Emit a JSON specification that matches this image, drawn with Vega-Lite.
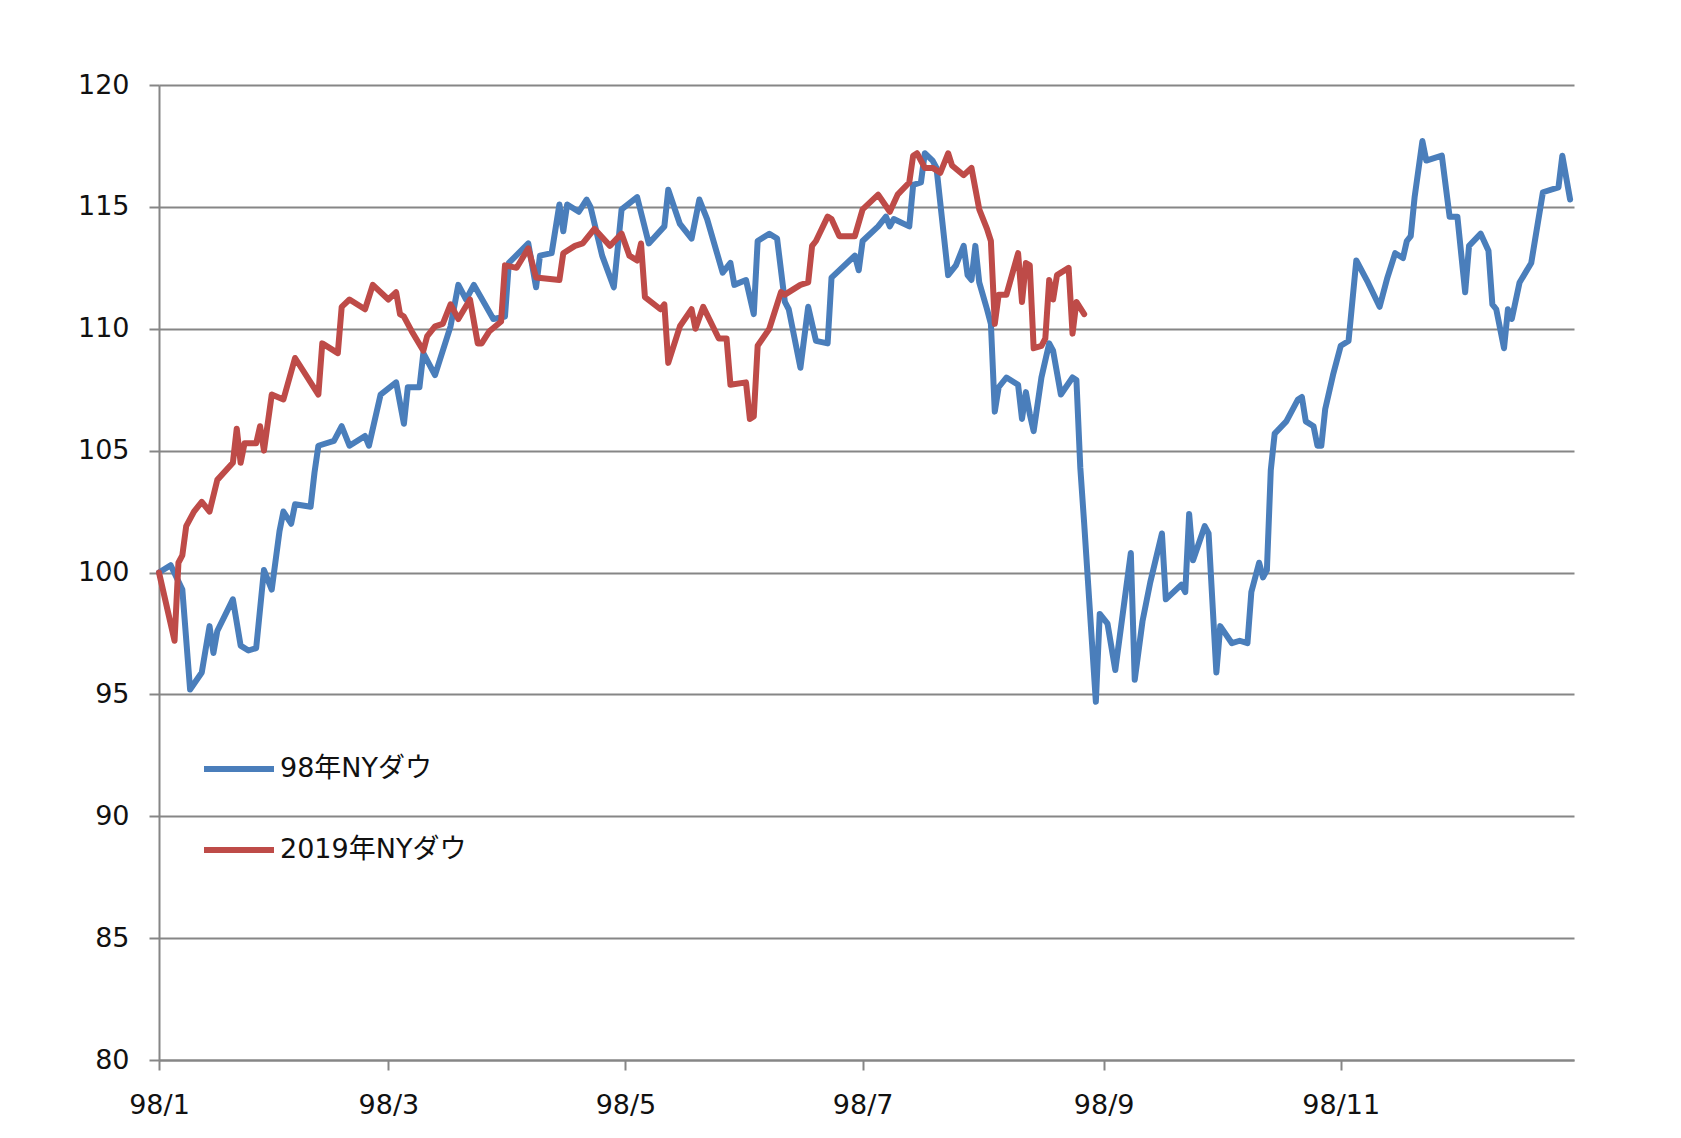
{
  "$schema": "https://vega.github.io/schema/vega-lite/v6.json",
  "width": 1415,
  "height": 975,
  "autosize": {"type": "none"},
  "padding": {"left": 159, "top": 85, "right": 107, "bottom": 78},
  "background": "white",
  "config": {"view": {"stroke": null}, "font": "DejaVu Sans"},
  "data": {"values": [
    {"series":"98年NYダウ","date":"1998-01-01T00:00:00","value":100.0},
    {"series":"98年NYダウ","date":"1998-01-04T00:00:00","value":100.3},
    {"series":"98年NYダウ","date":"1998-01-07T00:00:00","value":99.3},
    {"series":"98年NYダウ","date":"1998-01-09T00:00:00","value":95.2},
    {"series":"98年NYダウ","date":"1998-01-12T00:00:00","value":95.9},
    {"series":"98年NYダウ","date":"1998-01-14T00:00:00","value":97.8},
    {"series":"98年NYダウ","date":"1998-01-15T00:00:00","value":96.7},
    {"series":"98年NYダウ","date":"1998-01-16T00:00:00","value":97.6},
    {"series":"98年NYダウ","date":"1998-01-20T00:00:00","value":98.9},
    {"series":"98年NYダウ","date":"1998-01-22T00:00:00","value":97.0},
    {"series":"98年NYダウ","date":"1998-01-24T00:00:00","value":96.8},
    {"series":"98年NYダウ","date":"1998-01-26T00:00:00","value":96.9},
    {"series":"98年NYダウ","date":"1998-01-28T00:00:00","value":100.1},
    {"series":"98年NYダウ","date":"1998-01-30T00:00:00","value":99.3},
    {"series":"98年NYダウ","date":"1998-02-01T00:00:00","value":101.7},
    {"series":"98年NYダウ","date":"1998-02-02T00:00:00","value":102.5},
    {"series":"98年NYダウ","date":"1998-02-04T00:00:00","value":102.0},
    {"series":"98年NYダウ","date":"1998-02-05T00:00:00","value":102.8},
    {"series":"98年NYダウ","date":"1998-02-09T00:00:00","value":102.7},
    {"series":"98年NYダウ","date":"1998-02-10T00:00:00","value":104.1},
    {"series":"98年NYダウ","date":"1998-02-11T00:00:00","value":105.2},
    {"series":"98年NYダウ","date":"1998-02-15T00:00:00","value":105.4},
    {"series":"98年NYダウ","date":"1998-02-17T00:00:00","value":106.0},
    {"series":"98年NYダウ","date":"1998-02-19T00:00:00","value":105.2},
    {"series":"98年NYダウ","date":"1998-02-23T00:00:00","value":105.6},
    {"series":"98年NYダウ","date":"1998-02-24T00:00:00","value":105.2},
    {"series":"98年NYダウ","date":"1998-02-27T00:00:00","value":107.3},
    {"series":"98年NYダウ","date":"1998-03-03T00:00:00","value":107.8},
    {"series":"98年NYダウ","date":"1998-03-05T00:00:00","value":106.1},
    {"series":"98年NYダウ","date":"1998-03-06T00:00:00","value":107.6},
    {"series":"98年NYダウ","date":"1998-03-09T00:00:00","value":107.6},
    {"series":"98年NYダウ","date":"1998-03-10T00:00:00","value":109.0},
    {"series":"98年NYダウ","date":"1998-03-13T00:00:00","value":108.1},
    {"series":"98年NYダウ","date":"1998-03-17T00:00:00","value":110.1},
    {"series":"98年NYダウ","date":"1998-03-19T00:00:00","value":111.8},
    {"series":"98年NYダウ","date":"1998-03-21T00:00:00","value":111.2},
    {"series":"98年NYダウ","date":"1998-03-23T00:00:00","value":111.8},
    {"series":"98年NYダウ","date":"1998-03-28T00:00:00","value":110.4},
    {"series":"98年NYダウ","date":"1998-03-31T00:00:00","value":110.5},
    {"series":"98年NYダウ","date":"1998-04-01T00:00:00","value":112.7},
    {"series":"98年NYダウ","date":"1998-04-06T00:00:00","value":113.5},
    {"series":"98年NYダウ","date":"1998-04-08T00:00:00","value":111.7},
    {"series":"98年NYダウ","date":"1998-04-09T00:00:00","value":113.0},
    {"series":"98年NYダウ","date":"1998-04-12T00:00:00","value":113.1},
    {"series":"98年NYダウ","date":"1998-04-14T00:00:00","value":115.1},
    {"series":"98年NYダウ","date":"1998-04-15T00:00:00","value":114.0},
    {"series":"98年NYダウ","date":"1998-04-16T00:00:00","value":115.1},
    {"series":"98年NYダウ","date":"1998-04-19T00:00:00","value":114.8},
    {"series":"98年NYダウ","date":"1998-04-21T00:00:00","value":115.3},
    {"series":"98年NYダウ","date":"1998-04-22T00:00:00","value":115.0},
    {"series":"98年NYダウ","date":"1998-04-25T00:00:00","value":113.0},
    {"series":"98年NYダウ","date":"1998-04-28T00:00:00","value":111.7},
    {"series":"98年NYダウ","date":"1998-04-30T00:00:00","value":114.9},
    {"series":"98年NYダウ","date":"1998-05-04T00:00:00","value":115.4},
    {"series":"98年NYダウ","date":"1998-05-07T00:00:00","value":113.5},
    {"series":"98年NYダウ","date":"1998-05-11T00:00:00","value":114.2},
    {"series":"98年NYダウ","date":"1998-05-12T00:00:00","value":115.7},
    {"series":"98年NYダウ","date":"1998-05-15T00:00:00","value":114.3},
    {"series":"98年NYダウ","date":"1998-05-18T00:00:00","value":113.7},
    {"series":"98年NYダウ","date":"1998-05-20T00:00:00","value":115.3},
    {"series":"98年NYダウ","date":"1998-05-22T00:00:00","value":114.5},
    {"series":"98年NYダウ","date":"1998-05-26T00:00:00","value":112.3},
    {"series":"98年NYダウ","date":"1998-05-28T00:00:00","value":112.7},
    {"series":"98年NYダウ","date":"1998-05-29T00:00:00","value":111.8},
    {"series":"98年NYダウ","date":"1998-06-01T00:00:00","value":112.0},
    {"series":"98年NYダウ","date":"1998-06-03T00:00:00","value":110.6},
    {"series":"98年NYダウ","date":"1998-06-04T00:00:00","value":113.6},
    {"series":"98年NYダウ","date":"1998-06-07T00:00:00","value":113.9},
    {"series":"98年NYダウ","date":"1998-06-09T00:00:00","value":113.7},
    {"series":"98年NYダウ","date":"1998-06-11T00:00:00","value":111.1},
    {"series":"98年NYダウ","date":"1998-06-12T00:00:00","value":110.8},
    {"series":"98年NYダウ","date":"1998-06-15T00:00:00","value":108.4},
    {"series":"98年NYダウ","date":"1998-06-17T00:00:00","value":110.9},
    {"series":"98年NYダウ","date":"1998-06-19T00:00:00","value":109.5},
    {"series":"98年NYダウ","date":"1998-06-22T00:00:00","value":109.4},
    {"series":"98年NYダウ","date":"1998-06-23T00:00:00","value":112.1},
    {"series":"98年NYダウ","date":"1998-06-29T00:00:00","value":113.0},
    {"series":"98年NYダウ","date":"1998-06-30T00:00:00","value":112.4},
    {"series":"98年NYダウ","date":"1998-07-01T00:00:00","value":113.6},
    {"series":"98年NYダウ","date":"1998-07-05T00:00:00","value":114.2},
    {"series":"98年NYダウ","date":"1998-07-07T00:00:00","value":114.6},
    {"series":"98年NYダウ","date":"1998-07-08T00:00:00","value":114.2},
    {"series":"98年NYダウ","date":"1998-07-09T00:00:00","value":114.5},
    {"series":"98年NYダウ","date":"1998-07-13T00:00:00","value":114.2},
    {"series":"98年NYダウ","date":"1998-07-14T00:00:00","value":115.9},
    {"series":"98年NYダウ","date":"1998-07-16T00:00:00","value":116.0},
    {"series":"98年NYダウ","date":"1998-07-17T00:00:00","value":117.2},
    {"series":"98年NYダウ","date":"1998-07-19T00:00:00","value":116.9},
    {"series":"98年NYダウ","date":"1998-07-20T00:00:00","value":116.6},
    {"series":"98年NYダウ","date":"1998-07-23T00:00:00","value":112.2},
    {"series":"98年NYダウ","date":"1998-07-25T00:00:00","value":112.6},
    {"series":"98年NYダウ","date":"1998-07-27T00:00:00","value":113.4},
    {"series":"98年NYダウ","date":"1998-07-28T00:00:00","value":112.2},
    {"series":"98年NYダウ","date":"1998-07-29T00:00:00","value":112.0},
    {"series":"98年NYダウ","date":"1998-07-30T00:00:00","value":113.4},
    {"series":"98年NYダウ","date":"1998-07-31T00:00:00","value":111.9},
    {"series":"98年NYダウ","date":"1998-08-02T00:00:00","value":110.8},
    {"series":"98年NYダウ","date":"1998-08-03T00:00:00","value":110.2},
    {"series":"98年NYダウ","date":"1998-08-04T00:00:00","value":106.6},
    {"series":"98年NYダウ","date":"1998-08-05T00:00:00","value":107.6},
    {"series":"98年NYダウ","date":"1998-08-07T00:00:00","value":108.0},
    {"series":"98年NYダウ","date":"1998-08-10T00:00:00","value":107.7},
    {"series":"98年NYダウ","date":"1998-08-11T00:00:00","value":106.3},
    {"series":"98年NYダウ","date":"1998-08-12T00:00:00","value":107.4},
    {"series":"98年NYダウ","date":"1998-08-13T00:00:00","value":106.5},
    {"series":"98年NYダウ","date":"1998-08-14T00:00:00","value":105.8},
    {"series":"98年NYダウ","date":"1998-08-16T00:00:00","value":108.0},
    {"series":"98年NYダウ","date":"1998-08-18T00:00:00","value":109.4},
    {"series":"98年NYダウ","date":"1998-08-19T00:00:00","value":109.1},
    {"series":"98年NYダウ","date":"1998-08-21T00:00:00","value":107.3},
    {"series":"98年NYダウ","date":"1998-08-24T00:00:00","value":108.0},
    {"series":"98年NYダウ","date":"1998-08-25T00:00:00","value":107.9},
    {"series":"98年NYダウ","date":"1998-08-26T00:00:00","value":104.3},
    {"series":"98年NYダウ","date":"1998-08-27T00:00:00","value":102.0},
    {"series":"98年NYダウ","date":"1998-08-30T00:00:00","value":94.7},
    {"series":"98年NYダウ","date":"1998-08-31T00:00:00","value":98.3},
    {"series":"98年NYダウ","date":"1998-09-02T00:00:00","value":97.9},
    {"series":"98年NYダウ","date":"1998-09-04T00:00:00","value":96.0},
    {"series":"98年NYダウ","date":"1998-09-08T00:00:00","value":100.8},
    {"series":"98年NYダウ","date":"1998-09-09T00:00:00","value":95.6},
    {"series":"98年NYダウ","date":"1998-09-11T00:00:00","value":98.0},
    {"series":"98年NYダウ","date":"1998-09-13T00:00:00","value":99.6},
    {"series":"98年NYダウ","date":"1998-09-16T00:00:00","value":101.6},
    {"series":"98年NYダウ","date":"1998-09-17T00:00:00","value":98.9},
    {"series":"98年NYダウ","date":"1998-09-21T00:00:00","value":99.5},
    {"series":"98年NYダウ","date":"1998-09-22T00:00:00","value":99.2},
    {"series":"98年NYダウ","date":"1998-09-23T00:00:00","value":102.4},
    {"series":"98年NYダウ","date":"1998-09-24T00:00:00","value":100.5},
    {"series":"98年NYダウ","date":"1998-09-27T00:00:00","value":101.9},
    {"series":"98年NYダウ","date":"1998-09-28T00:00:00","value":101.6},
    {"series":"98年NYダウ","date":"1998-09-30T00:00:00","value":95.9},
    {"series":"98年NYダウ","date":"1998-10-01T00:00:00","value":97.8},
    {"series":"98年NYダウ","date":"1998-10-04T00:00:00","value":97.1},
    {"series":"98年NYダウ","date":"1998-10-06T00:00:00","value":97.2},
    {"series":"98年NYダウ","date":"1998-10-08T00:00:00","value":97.1},
    {"series":"98年NYダウ","date":"1998-10-09T00:00:00","value":99.2},
    {"series":"98年NYダウ","date":"1998-10-11T00:00:00","value":100.4},
    {"series":"98年NYダウ","date":"1998-10-12T00:00:00","value":99.8},
    {"series":"98年NYダウ","date":"1998-10-13T00:00:00","value":100.1},
    {"series":"98年NYダウ","date":"1998-10-14T00:00:00","value":104.2},
    {"series":"98年NYダウ","date":"1998-10-15T00:00:00","value":105.7},
    {"series":"98年NYダウ","date":"1998-10-18T00:00:00","value":106.2},
    {"series":"98年NYダウ","date":"1998-10-21T00:00:00","value":107.1},
    {"series":"98年NYダウ","date":"1998-10-22T00:00:00","value":107.2},
    {"series":"98年NYダウ","date":"1998-10-23T00:00:00","value":106.2},
    {"series":"98年NYダウ","date":"1998-10-25T00:00:00","value":106.0},
    {"series":"98年NYダウ","date":"1998-10-26T00:00:00","value":105.2},
    {"series":"98年NYダウ","date":"1998-10-27T00:00:00","value":105.2},
    {"series":"98年NYダウ","date":"1998-10-28T00:00:00","value":106.7},
    {"series":"98年NYダウ","date":"1998-10-30T00:00:00","value":108.1},
    {"series":"98年NYダウ","date":"1998-11-01T00:00:00","value":109.3},
    {"series":"98年NYダウ","date":"1998-11-03T00:00:00","value":109.5},
    {"series":"98年NYダウ","date":"1998-11-05T00:00:00","value":112.8},
    {"series":"98年NYダウ","date":"1998-11-08T00:00:00","value":111.9},
    {"series":"98年NYダウ","date":"1998-11-11T00:00:00","value":110.9},
    {"series":"98年NYダウ","date":"1998-11-13T00:00:00","value":112.1},
    {"series":"98年NYダウ","date":"1998-11-15T00:00:00","value":113.1},
    {"series":"98年NYダウ","date":"1998-11-17T00:00:00","value":112.9},
    {"series":"98年NYダウ","date":"1998-11-18T00:00:00","value":113.6},
    {"series":"98年NYダウ","date":"1998-11-19T00:00:00","value":113.8},
    {"series":"98年NYダウ","date":"1998-11-20T00:00:00","value":115.4},
    {"series":"98年NYダウ","date":"1998-11-22T00:00:00","value":117.7},
    {"series":"98年NYダウ","date":"1998-11-23T00:00:00","value":116.9},
    {"series":"98年NYダウ","date":"1998-11-27T00:00:00","value":117.1},
    {"series":"98年NYダウ","date":"1998-11-29T00:00:00","value":114.6},
    {"series":"98年NYダウ","date":"1998-12-01T00:00:00","value":114.6},
    {"series":"98年NYダウ","date":"1998-12-03T00:00:00","value":111.5},
    {"series":"98年NYダウ","date":"1998-12-04T00:00:00","value":113.4},
    {"series":"98年NYダウ","date":"1998-12-07T00:00:00","value":113.9},
    {"series":"98年NYダウ","date":"1998-12-09T00:00:00","value":113.2},
    {"series":"98年NYダウ","date":"1998-12-10T00:00:00","value":111.0},
    {"series":"98年NYダウ","date":"1998-12-11T00:00:00","value":110.8},
    {"series":"98年NYダウ","date":"1998-12-13T00:00:00","value":109.2},
    {"series":"98年NYダウ","date":"1998-12-14T00:00:00","value":110.8},
    {"series":"98年NYダウ","date":"1998-12-15T00:00:00","value":110.4},
    {"series":"98年NYダウ","date":"1998-12-17T00:00:00","value":111.9},
    {"series":"98年NYダウ","date":"1998-12-20T00:00:00","value":112.7},
    {"series":"98年NYダウ","date":"1998-12-23T00:00:00","value":115.6},
    {"series":"98年NYダウ","date":"1998-12-27T00:00:00","value":115.8},
    {"series":"98年NYダウ","date":"1998-12-28T00:00:00","value":117.1},
    {"series":"98年NYダウ","date":"1998-12-30T00:00:00","value":115.3},
    {"series":"2019年NYダウ","date":"1998-01-01T00:00:00","value":100.0},
    {"series":"2019年NYダウ","date":"1998-01-05T00:00:00","value":97.2},
    {"series":"2019年NYダウ","date":"1998-01-06T00:00:00","value":100.4},
    {"series":"2019年NYダウ","date":"1998-01-07T00:00:00","value":100.7},
    {"series":"2019年NYダウ","date":"1998-01-08T00:00:00","value":101.9},
    {"series":"2019年NYダウ","date":"1998-01-10T00:00:00","value":102.5},
    {"series":"2019年NYダウ","date":"1998-01-12T00:00:00","value":102.9},
    {"series":"2019年NYダウ","date":"1998-01-14T00:00:00","value":102.5},
    {"series":"2019年NYダウ","date":"1998-01-16T00:00:00","value":103.8},
    {"series":"2019年NYダウ","date":"1998-01-20T00:00:00","value":104.5},
    {"series":"2019年NYダウ","date":"1998-01-21T00:00:00","value":105.9},
    {"series":"2019年NYダウ","date":"1998-01-22T00:00:00","value":104.5},
    {"series":"2019年NYダウ","date":"1998-01-23T00:00:00","value":105.3},
    {"series":"2019年NYダウ","date":"1998-01-26T00:00:00","value":105.3},
    {"series":"2019年NYダウ","date":"1998-01-27T00:00:00","value":106.0},
    {"series":"2019年NYダウ","date":"1998-01-28T00:00:00","value":105.0},
    {"series":"2019年NYダウ","date":"1998-01-30T00:00:00","value":107.3},
    {"series":"2019年NYダウ","date":"1998-02-02T00:00:00","value":107.1},
    {"series":"2019年NYダウ","date":"1998-02-05T00:00:00","value":108.8},
    {"series":"2019年NYダウ","date":"1998-02-11T00:00:00","value":107.3},
    {"series":"2019年NYダウ","date":"1998-02-12T00:00:00","value":109.4},
    {"series":"2019年NYダウ","date":"1998-02-16T00:00:00","value":109.0},
    {"series":"2019年NYダウ","date":"1998-02-17T00:00:00","value":110.9},
    {"series":"2019年NYダウ","date":"1998-02-19T00:00:00","value":111.2},
    {"series":"2019年NYダウ","date":"1998-02-23T00:00:00","value":110.8},
    {"series":"2019年NYダウ","date":"1998-02-25T00:00:00","value":111.8},
    {"series":"2019年NYダウ","date":"1998-03-01T00:00:00","value":111.2},
    {"series":"2019年NYダウ","date":"1998-03-03T00:00:00","value":111.5},
    {"series":"2019年NYダウ","date":"1998-03-04T00:00:00","value":110.6},
    {"series":"2019年NYダウ","date":"1998-03-05T00:00:00","value":110.5},
    {"series":"2019年NYダウ","date":"1998-03-07T00:00:00","value":109.9},
    {"series":"2019年NYダウ","date":"1998-03-10T00:00:00","value":109.1},
    {"series":"2019年NYダウ","date":"1998-03-11T00:00:00","value":109.7},
    {"series":"2019年NYダウ","date":"1998-03-13T00:00:00","value":110.1},
    {"series":"2019年NYダウ","date":"1998-03-15T00:00:00","value":110.2},
    {"series":"2019年NYダウ","date":"1998-03-17T00:00:00","value":111.0},
    {"series":"2019年NYダウ","date":"1998-03-19T00:00:00","value":110.4},
    {"series":"2019年NYダウ","date":"1998-03-22T00:00:00","value":111.2},
    {"series":"2019年NYダウ","date":"1998-03-24T00:00:00","value":109.4},
    {"series":"2019年NYダウ","date":"1998-03-25T00:00:00","value":109.4},
    {"series":"2019年NYダウ","date":"1998-03-27T00:00:00","value":109.9},
    {"series":"2019年NYダウ","date":"1998-03-30T00:00:00","value":110.3},
    {"series":"2019年NYダウ","date":"1998-03-31T00:00:00","value":112.6},
    {"series":"2019年NYダウ","date":"1998-04-03T00:00:00","value":112.5},
    {"series":"2019年NYダウ","date":"1998-04-06T00:00:00","value":113.3},
    {"series":"2019年NYダウ","date":"1998-04-08T00:00:00","value":112.1},
    {"series":"2019年NYダウ","date":"1998-04-14T00:00:00","value":112.0},
    {"series":"2019年NYダウ","date":"1998-04-15T00:00:00","value":113.1},
    {"series":"2019年NYダウ","date":"1998-04-18T00:00:00","value":113.4},
    {"series":"2019年NYダウ","date":"1998-04-20T00:00:00","value":113.5},
    {"series":"2019年NYダウ","date":"1998-04-23T00:00:00","value":114.1},
    {"series":"2019年NYダウ","date":"1998-04-27T00:00:00","value":113.4},
    {"series":"2019年NYダウ","date":"1998-04-30T00:00:00","value":113.9},
    {"series":"2019年NYダウ","date":"1998-05-02T00:00:00","value":113.0},
    {"series":"2019年NYダウ","date":"1998-05-04T00:00:00","value":112.8},
    {"series":"2019年NYダウ","date":"1998-05-05T00:00:00","value":113.5},
    {"series":"2019年NYダウ","date":"1998-05-06T00:00:00","value":111.3},
    {"series":"2019年NYダウ","date":"1998-05-10T00:00:00","value":110.8},
    {"series":"2019年NYダウ","date":"1998-05-11T00:00:00","value":111.0},
    {"series":"2019年NYダウ","date":"1998-05-12T00:00:00","value":108.6},
    {"series":"2019年NYダウ","date":"1998-05-15T00:00:00","value":110.1},
    {"series":"2019年NYダウ","date":"1998-05-18T00:00:00","value":110.8},
    {"series":"2019年NYダウ","date":"1998-05-19T00:00:00","value":110.0},
    {"series":"2019年NYダウ","date":"1998-05-21T00:00:00","value":110.9},
    {"series":"2019年NYダウ","date":"1998-05-25T00:00:00","value":109.6},
    {"series":"2019年NYダウ","date":"1998-05-27T00:00:00","value":109.6},
    {"series":"2019年NYダウ","date":"1998-05-28T00:00:00","value":107.7},
    {"series":"2019年NYダウ","date":"1998-06-01T00:00:00","value":107.8},
    {"series":"2019年NYダウ","date":"1998-06-02T00:00:00","value":106.3},
    {"series":"2019年NYダウ","date":"1998-06-03T00:00:00","value":106.4},
    {"series":"2019年NYダウ","date":"1998-06-04T00:00:00","value":109.3},
    {"series":"2019年NYダウ","date":"1998-06-07T00:00:00","value":110.0},
    {"series":"2019年NYダウ","date":"1998-06-10T00:00:00","value":111.5},
    {"series":"2019年NYダウ","date":"1998-06-11T00:00:00","value":111.4},
    {"series":"2019年NYダウ","date":"1998-06-15T00:00:00","value":111.8},
    {"series":"2019年NYダウ","date":"1998-06-17T00:00:00","value":111.9},
    {"series":"2019年NYダウ","date":"1998-06-18T00:00:00","value":113.4},
    {"series":"2019年NYダウ","date":"1998-06-19T00:00:00","value":113.6},
    {"series":"2019年NYダウ","date":"1998-06-22T00:00:00","value":114.6},
    {"series":"2019年NYダウ","date":"1998-06-23T00:00:00","value":114.5},
    {"series":"2019年NYダウ","date":"1998-06-25T00:00:00","value":113.8},
    {"series":"2019年NYダウ","date":"1998-06-29T00:00:00","value":113.8},
    {"series":"2019年NYダウ","date":"1998-07-01T00:00:00","value":114.9},
    {"series":"2019年NYダウ","date":"1998-07-05T00:00:00","value":115.5},
    {"series":"2019年NYダウ","date":"1998-07-08T00:00:00","value":114.8},
    {"series":"2019年NYダウ","date":"1998-07-10T00:00:00","value":115.5},
    {"series":"2019年NYダウ","date":"1998-07-13T00:00:00","value":116.0},
    {"series":"2019年NYダウ","date":"1998-07-14T00:00:00","value":117.1},
    {"series":"2019年NYダウ","date":"1998-07-15T00:00:00","value":117.2},
    {"series":"2019年NYダウ","date":"1998-07-17T00:00:00","value":116.6},
    {"series":"2019年NYダウ","date":"1998-07-19T00:00:00","value":116.6},
    {"series":"2019年NYダウ","date":"1998-07-21T00:00:00","value":116.4},
    {"series":"2019年NYダウ","date":"1998-07-23T00:00:00","value":117.2},
    {"series":"2019年NYダウ","date":"1998-07-24T00:00:00","value":116.7},
    {"series":"2019年NYダウ","date":"1998-07-27T00:00:00","value":116.3},
    {"series":"2019年NYダウ","date":"1998-07-29T00:00:00","value":116.6},
    {"series":"2019年NYダウ","date":"1998-07-31T00:00:00","value":114.9},
    {"series":"2019年NYダウ","date":"1998-08-02T00:00:00","value":114.1},
    {"series":"2019年NYダウ","date":"1998-08-03T00:00:00","value":113.6},
    {"series":"2019年NYダウ","date":"1998-08-04T00:00:00","value":110.2},
    {"series":"2019年NYダウ","date":"1998-08-05T00:00:00","value":111.4},
    {"series":"2019年NYダウ","date":"1998-08-07T00:00:00","value":111.4},
    {"series":"2019年NYダウ","date":"1998-08-10T00:00:00","value":113.1},
    {"series":"2019年NYダウ","date":"1998-08-11T00:00:00","value":111.1},
    {"series":"2019年NYダウ","date":"1998-08-12T00:00:00","value":112.7},
    {"series":"2019年NYダウ","date":"1998-08-13T00:00:00","value":112.6},
    {"series":"2019年NYダウ","date":"1998-08-14T00:00:00","value":109.2},
    {"series":"2019年NYダウ","date":"1998-08-16T00:00:00","value":109.3},
    {"series":"2019年NYダウ","date":"1998-08-17T00:00:00","value":109.6},
    {"series":"2019年NYダウ","date":"1998-08-18T00:00:00","value":112.0},
    {"series":"2019年NYダウ","date":"1998-08-19T00:00:00","value":111.2},
    {"series":"2019年NYダウ","date":"1998-08-20T00:00:00","value":112.2},
    {"series":"2019年NYダウ","date":"1998-08-23T00:00:00","value":112.5},
    {"series":"2019年NYダウ","date":"1998-08-24T00:00:00","value":109.8},
    {"series":"2019年NYダウ","date":"1998-08-25T00:00:00","value":111.1},
    {"series":"2019年NYダウ","date":"1998-08-27T00:00:00","value":110.6}
  ]},
  "mark": {"type": "line", "strokeWidth": 6, "strokeJoin": "round", "strokeCap": "round"},
  "encoding": {
    "x": {
      "field": "date",
      "type": "temporal",
      "scale": {"domain": [{"year": 1998, "month": 1, "date": 1}, {"year": 1998, "month": 12, "date": 31}]},
      "axis": {
        "title": null,
        "format": "%y/%-m",
        "tickCount": {"interval": "month", "step": 2},
        "grid": false,
        "labelFlush": false,
        "domainColor": "#868686",
        "domainWidth": 2,
        "tickColor": "#868686",
        "tickWidth": 2,
        "tickSize": 10,
        "labelFont": "DejaVu Sans",
        "labelFontSize": 27,
        "labelColor": "#111111",
        "labelPadding": 22
      }
    },
    "y": {
      "field": "value",
      "type": "quantitative",
      "scale": {"domain": [80, 120], "zero": false, "nice": false},
      "axis": {
        "title": null,
        "values": [80, 85, 90, 95, 100, 105, 110, 115, 120],
        "grid": true,
        "gridColor": "#868686",
        "gridWidth": 2,
        "domainColor": "#868686",
        "domainWidth": 2,
        "tickColor": "#868686",
        "tickWidth": 2,
        "tickSize": 10,
        "labelFont": "DejaVu Sans",
        "labelFontSize": 27,
        "labelColor": "#111111",
        "labelPadding": 20
      }
    },
    "color": {
      "field": "series",
      "type": "nominal",
      "sort": ["98年NYダウ", "2019年NYダウ"],
      "scale": {"domain": ["98年NYダウ", "2019年NYダウ"], "range": ["#4A7EBB", "#BE4B48"]},
      "legend": {
        "title": null,
        "orient": "none",
        "direction": "vertical",
        "legendX": 42,
        "legendY": 646,
        "padding": 0,
        "offset": 0,
        "symbolType": "stroke",
        "symbolSize": 4900,
        "symbolStrokeWidth": 6,
        "labelFont": "DejaVu Sans, Noto Sans CJK JP",
        "labelFontSize": 27,
        "labelColor": "#111111",
        "labelLimit": 0,
        "labelOffset": 3,
        "rowPadding": 30
      }
    }
  }
}
